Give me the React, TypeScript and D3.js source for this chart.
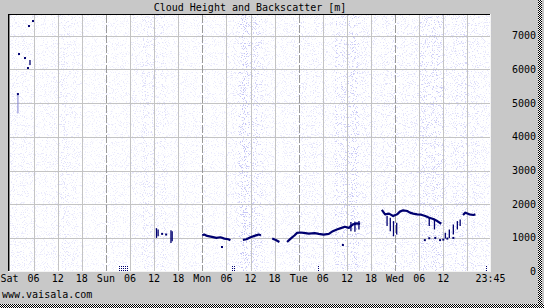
import React from "react";
import * as d3 from "d3";

const W = 544;
const H = 308;

// axis ticks
const yTicks = [0, 1000, 2000, 3000, 4000, 5000, 6000, 7000];
const xTickHours = [0, 6, 12, 18, 24, 30, 36, 42, 48, 54, 60, 66, 72, 78, 84, 90, 96, 102, 108, 119.75];
const xTickLabels = ["Sat", "06", "12", "18", "Sun", "06", "12", "18", "Mon", "06", "12", "18", "Tue", "06", "12", "18", "Wed", "06", "12", "23:45"];
const gridHours = [6, 12, 18, 24, 30, 36, 42, 48, 54, 60, 66, 72, 78, 84, 90, 96, 102, 108, 114];

// backscatter noise intensity per 3-hour bin (Sat 00 .. Wed 24)
const noiseBins = [
  0.35, 0.35, 0.3, 0.35, 0.45, 0.35, 0.25, 0.25,
  0.3, 0.3, 0.35, 0.5, 0.45, 0.3, 0.3, 0.3,
  0.3, 0.3, 0.4, 0.9, 0.7, 0.35, 0.3, 0.35,
  0.4, 0.4, 0.35, 0.7, 0.8, 0.45, 0.4, 0.45,
  0.4, 0.45, 0.7, 0.75, 0.45, 0.6, 0.5, 0.4,
];

// cloud base layer [hour, height m]; NaN breaks the line
const cloudLayer: [number, number][] = [
  [48.0, 1080], [48.5, 1100], [49.2, 1060], [50.4, 1030], [51.5, 1000], [52.5, 1020], [53.5, 980], [54.5, 960], [55.0, 930],
  [NaN, NaN],
  [58.1, 940], [59.0, 960], [60.0, 1020], [61.0, 1060], [62.0, 1100], [62.6, 1080],
  [NaN, NaN],
  [65.4, 980], [66.3, 940], [67.2, 880],
  [NaN, NaN],
  [69.1, 880], [70.0, 980], [71.0, 1080], [71.6, 1150], [72.5, 1160], [73.2, 1150], [74.5, 1130], [76.0, 1140],
  [77.0, 1120], [78.2, 1100], [79.5, 1120], [80.5, 1200], [81.5, 1250], [82.5, 1290], [83.5, 1330], [84.5, 1300],
  [85.5, 1400], [86.5, 1430], [87.3, 1420],
  [NaN, NaN],
  [92.7, 1830], [93.5, 1700], [94.5, 1720], [95.5, 1650], [96.5, 1700], [97.2, 1780], [98.0, 1820], [99.0, 1800],
  [99.7, 1750], [100.5, 1720], [101.5, 1700], [102.5, 1690], [103.5, 1650], [104.5, 1600], [105.5, 1560],
  [106.5, 1500], [107.5, 1420],
  [NaN, NaN],
  [112.9, 1680], [113.5, 1750], [114.5, 1700], [115.5, 1680], [116.0, 1700],
];

// vertical streaks of cloud returns [hour, top m, bottom m]
const cloudStreaks: [number, number, number][] = [
  [5.1, 6280, 6130],
  [36.6, 1290, 1000], [37.0, 1250, 1050], [40.2, 1230, 850], [40.5, 1200, 900],
  [85.0, 1470, 1200], [86.0, 1480, 1180], [87.0, 1500, 1250],
  [94.0, 1650, 1350], [94.8, 1600, 1200], [95.6, 1500, 1050], [96.4, 1450, 1100],
  [104.5, 1600, 1350], [105.8, 1550, 1250],
  [108.5, 1150, 980], [109.5, 1250, 1000], [110.5, 1400, 1100], [111.5, 1500, 1250], [112.2, 1550, 1350],
];

// isolated cloud hits [hour, height m]
const cloudDots: [number, number][] = [
  [5.85, 7438], [4.85, 7290], [2.37, 6459], [3.86, 6340], [4.6, 6043], [2.1, 5270],
  [38.0, 1120], [39.0, 1100],
  [52.9, 730], [83.0, 790],
  [103.4, 935], [107.2, 935], [104.5, 990], [106.0, 1000], [108.0, 950], [109.0, 980], [110.5, 1000],
];

// faint returns [hour, top m, bottom m]
const faintStreaks: [number, number, number][] = [[2.1, 5240, 4700]];

// status flags near ground
const flagHours = [27.3, 27.8, 28.3, 28.8, 29.3, 55.4, 55.9, 76.9, 118.7];

export default function App() {
  const x = d3.scaleLinear().domain([0, 120]).range([9.5, 491.5]);
  const y = d3.scaleLinear().domain([0, 7000]).range([271.6, 35.8]);
  const left = 9, right = 491, top = 15, bottom = 272;
  const font = "DejaVu Sans Mono";
  const navy = "#000070";

  const line = d3
    .line<[number, number]>()
    .defined((d) => !isNaN(d[0]))
    .x((d) => x(d[0]))
    .y((d) => y(d[1]));

  return (
    <svg width={W} height={H} style={{ position: "absolute", left: 0, top: 0 }} fontFamily={font} fontSize={10}>
      <defs>
        <pattern id="checker" width={2} height={2} patternUnits="userSpaceOnUse">
          <rect width={2} height={2} fill="#ffffff" />
          <rect width={1} height={1} fill="#000000" />
          <rect x={1} y={1} width={1} height={1} fill="#000000" />
        </pattern>
        <filter id="speck" x="0" y="0" width="1" height="1" colorInterpolationFilters="sRGB">
          <feTurbulence type="fractalNoise" baseFrequency="0.9" numOctaves={2} seed={7} result="t" />
          <feColorMatrix in="t" type="matrix" values="0 0 0 0 0.66  0 0 0 0 0.66  0 0 0 0 0.95  9 0 0 0 -5.1" result="c" />
          <feComposite in="c" in2="SourceAlpha" operator="in" />
        </filter>
      </defs>
      <rect width={W} height={H} fill="#c8c8c8" />
      <rect x={538} y={0} width={4} height={H} fill="url(#checker)" />
      <rect x={0} y={304} width={W} height={4} fill="url(#checker)" />

      {/* plot area */}
      <rect x={left} y={top} width={right - left} height={bottom - top} fill="#ffffff" />
      {noiseBins.map((v, i) => (
        <rect
          key={"n" + i}
          x={x(i * 3)}
          y={top}
          width={x(3) - x(0)}
          height={bottom - top}
          fill="#000"
          filter="url(#speck)"
          opacity={Math.min(1, v * 0.75)}
        />
      ))}

      {/* grid */}
      {yTicks.slice(1).map((t) => (
        <line key={"hy" + t} x1={left} x2={right} y1={Math.round(y(t)) + 0.5} y2={Math.round(y(t)) + 0.5} stroke="#c4c4c4" strokeWidth={1} />
      ))}
      {gridHours.map((h) => {
        const day = h % 24 === 0;
        const xx = Math.round(x(h)) + 0.5;
        return (
          <line
            key={"gx" + h}
            x1={xx}
            x2={xx}
            y1={top}
            y2={bottom}
            stroke={day ? "#9a9a9a" : "#c4c4c4"}
            strokeDasharray={day ? "8,2" : undefined}
            strokeWidth={1}
          />
        );
      })}

      {/* clouds */}
      {faintStreaks.map((d, i) => (
        <line key={"f" + i} x1={x(d[0])} x2={x(d[0])} y1={y(d[1])} y2={y(d[2])} stroke="#8080d0" strokeWidth={1} />
      ))}
      <path d={line(cloudLayer) || ""} fill="none" stroke={navy} strokeWidth={2.2} strokeLinejoin="round" />
      {cloudStreaks.map((d, i) => (
        <line key={"s" + i} x1={x(d[0])} x2={x(d[0])} y1={y(d[1])} y2={y(d[2])} stroke={navy} strokeWidth={1.3} />
      ))}
      {cloudDots.map((d, i) => (
        <rect key={"d" + i} x={x(d[0]) - 1} y={y(d[1]) - 1} width={2} height={2} fill={navy} />
      ))}
      {flagHours.map((h, i) =>
        [266, 268, 270].map((yy) => (
          <rect key={"fl" + i + "-" + yy} x={Math.round(x(h))} y={yy} width={1} height={1} fill={navy} />
        ))
      )}

      {/* frame */}
      <line x1={8.5} x2={8.5} y1={14} y2={272} stroke="#000" />
      <line x1={9.5} x2={9.5} y1={15} y2={272} stroke="#8a8a8a" />
      <line x1={8} x2={491} y1={14.5} y2={14.5} stroke="#000" />
      <line x1={490.5} x2={490.5} y1={14} y2={272} stroke="#f4f4f4" />
      <line x1={8} x2={491} y1={271.5} y2={271.5} stroke="#f4f4f4" />

      {/* title */}
      <text x={250} y={11} textAnchor="middle" fill="#000">Cloud Height and Backscatter [m]</text>

      {/* y labels */}
      {yTicks.map((t) => (
        <text key={"yl" + t} x={536} y={y(t) + 3.5} textAnchor="end" fill="#000">
          {t}
        </text>
      ))}

      {/* x labels */}
      {xTickHours.map((h, i) => (
        <text key={"xl" + i} x={x(h)} y={282} textAnchor="middle" fill="#000">
          {xTickLabels[i]}
        </text>
      ))}

      <text x={2} y={298} fill="#000">www.vaisala.com</text>
    </svg>
  );
}
